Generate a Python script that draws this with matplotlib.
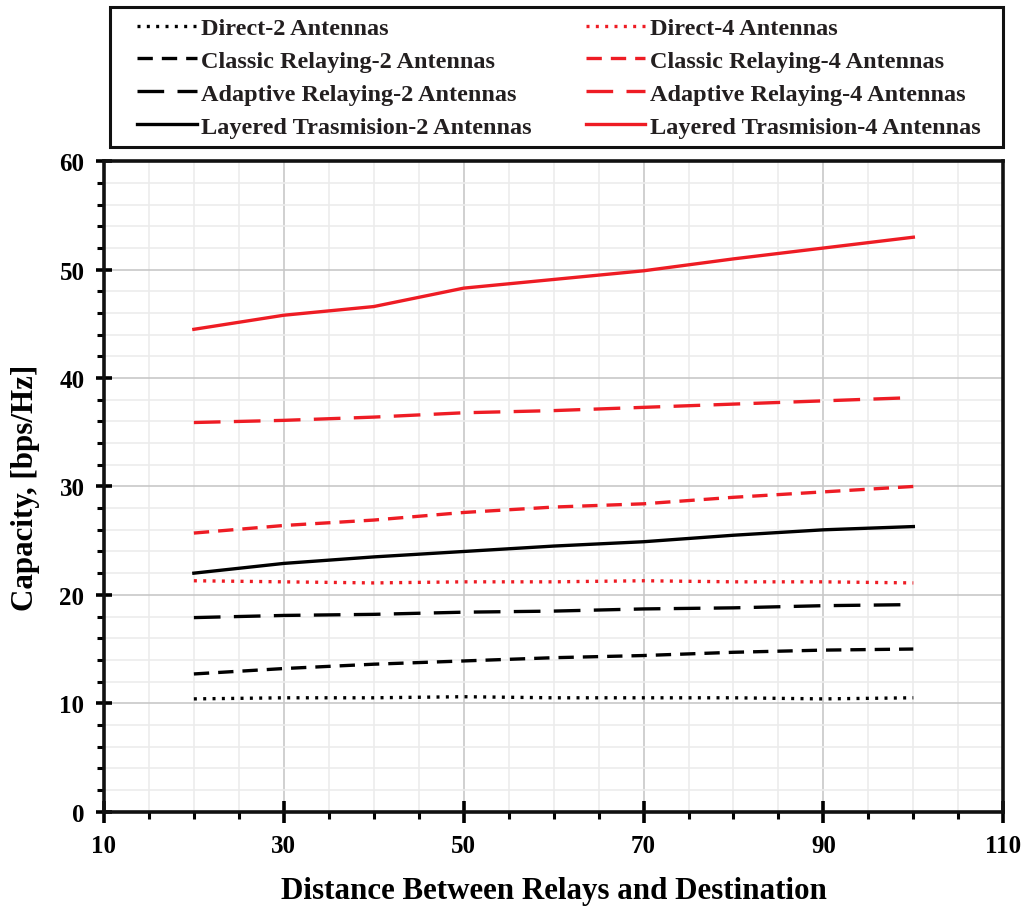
import matplotlib
matplotlib.use("Agg")
import matplotlib.pyplot as plt
from matplotlib.patches import Rectangle
from matplotlib.ticker import MultipleLocator, FixedLocator

distance = [20, 30, 40, 50, 60, 70, 80, 90, 100]

direct_2 = [10.4, 10.5, 10.5, 10.6, 10.5, 10.5, 10.5, 10.4, 10.5]
classic_2 = [12.7, 13.2, 13.6, 13.9, 14.2, 14.4, 14.7, 14.9, 15.0]
adaptive_2 = [17.9, 18.1, 18.2, 18.4, 18.5, 18.7, 18.8, 19.0, 19.1]
layered_2 = [22.0, 22.9, 23.5, 24.0, 24.5, 24.9, 25.5, 26.0, 26.3]

direct_4 = [21.3, 21.2, 21.1, 21.2, 21.2, 21.3, 21.2, 21.2, 21.1]
classic_4 = [25.7, 26.4, 26.9, 27.6, 28.1, 28.4, 29.0, 29.5, 30.0]
adaptive_4 = [35.9, 36.1, 36.4, 36.8, 37.0, 37.3, 37.6, 37.9, 38.2]
layered_4 = [44.5, 45.8, 46.6, 48.3, 49.1, 49.9, 51.0, 52.0, 53.0]

plt.rcParams["font.family"] = ["Liberation Serif", "DejaVu Serif"]
plt.rcParams["font.weight"] = "bold"

W, H = 1029, 912
fig = plt.figure(figsize=(W / 100, H / 100), dpi=100)
ax = fig.add_axes([0.101, 0.109, 0.874, 0.713])

dotted = (0, (0.9, 1.9))
short_dash = (0, (4.6, 2.7))
long_dash = (0, (8.0, 4.0))
lw = 2.4
red = "#ee1c24"

# column 1 = 2 antennas, column 2 = 4 antennas
series = [
    (direct_2, "k", dotted, "Direct-2 Antennas"),
    (classic_2, "k", short_dash, "Classic Relaying-2 Antennas"),
    (adaptive_2, "k", long_dash, "Adaptive Relaying-2 Antennas"),
    (layered_2, "k", "-", "Layered Trasmision-2 Antennas"),
    (direct_4, red, dotted, "Direct-4 Antennas"),
    (classic_4, red, short_dash, "Classic Relaying-4 Antennas"),
    (adaptive_4, red, long_dash, "Adaptive Relaying-4 Antennas"),
    (layered_4, red, "-", "Layered Trasmision-4 Antennas"),
]
for vals, col, ls, name in series:
    ax.plot(distance, vals, color=col, linestyle=ls, linewidth=lw,
            label=name, dash_capstyle="butt")

ax.set_xlim(10, 110)
ax.set_ylim(0, 60)
ax.xaxis.set_major_locator(FixedLocator([10, 30, 50, 70, 90, 110]))
ax.xaxis.set_minor_locator(MultipleLocator(5))
ax.yaxis.set_major_locator(MultipleLocator(10))
ax.yaxis.set_minor_locator(MultipleLocator(2))

ax.grid(which="minor", color="#ececec", linewidth=1.2)
ax.grid(which="major", color="#c8c8c8", linewidth=1.2)
ax.set_axisbelow(True)

for s in ax.spines.values():
    s.set_linewidth(2.6)
    s.set_color("#111111")

ax.tick_params(axis="both", which="major", direction="inout", length=12,
               width=2.6, labelsize=18, pad=8)
ax.tick_params(axis="both", which="minor", direction="out", length=5, width=2.2)
ax.tick_params(axis="x", which="major", length=16)

ax.set_xlabel("Distance Between Relays and Destination", fontsize=22.3,
              fontweight="bold", labelpad=14)
ax.set_ylabel("Capacity, [bps/Hz]", fontsize=22.3, fontweight="bold", labelpad=14)

# legend box above the plot, frame drawn separately
leg = fig.legend(loc="upper left", bbox_to_anchor=(137 / W, 1 - 18 / H),
                 ncol=2, fontsize=17.5, frameon=False, handlelength=2.45,
                 handletextpad=0.2, borderpad=0.0, borderaxespad=0.0,
                 labelspacing=0.45, columnspacing=2.2)
for t in leg.get_texts():
    t.set_fontweight("bold")
    t.set_color("#231f20")

fig.patches.append(Rectangle((110 / W, 1 - 148 / H), 893 / W, 140 / H,
                             transform=fig.transFigure, fill=False,
                             edgecolor="#111111", linewidth=2.2))

fig.savefig("out.png", dpi=100)
